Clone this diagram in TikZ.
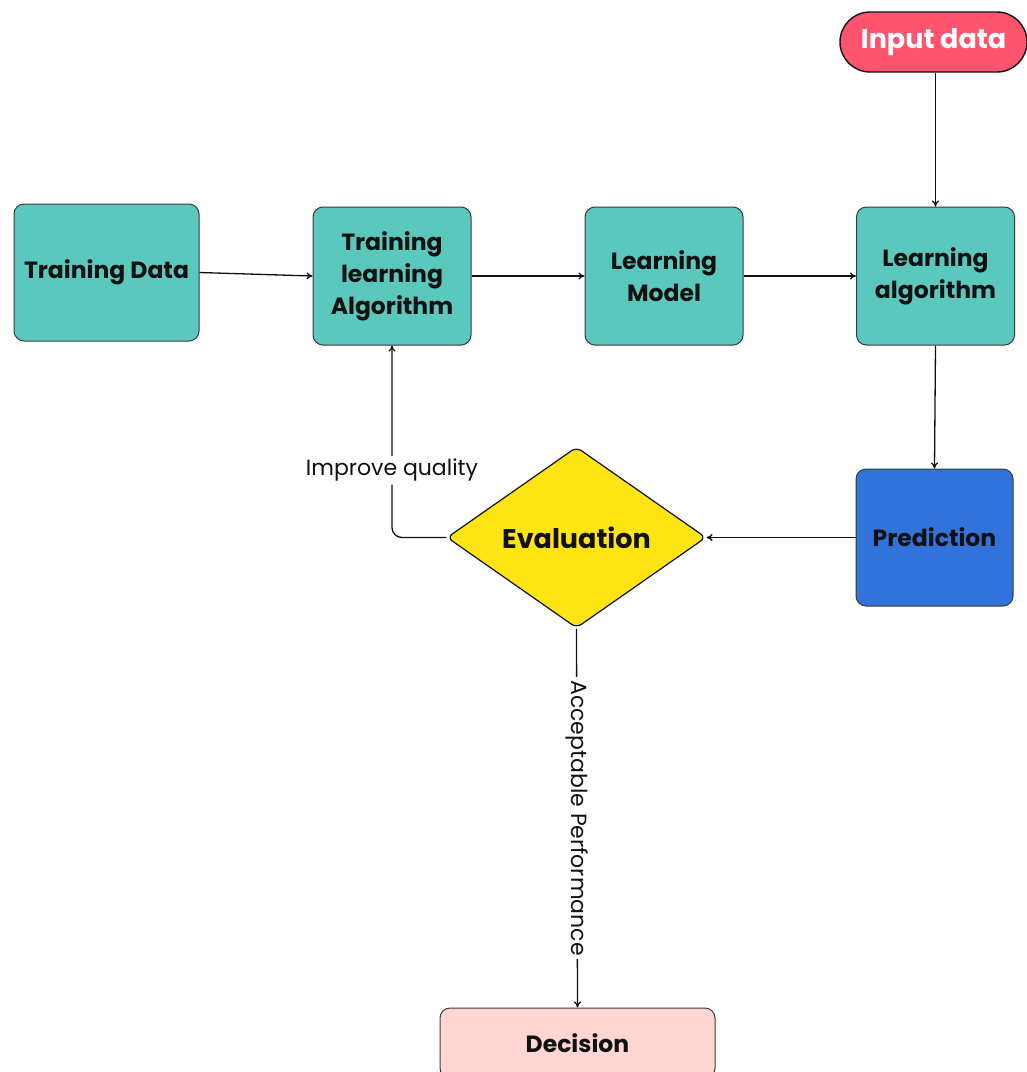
\documentclass[tikz,border=0pt]{standalone}
\usepackage{fontspec}
\setmainfont{Poppins}
\usetikzlibrary{arrows.meta,shapes.geometric}
\definecolor{Ink}{HTML}{111111}
\definecolor{Edge}{HTML}{3A3A3A}
\definecolor{Teal}{HTML}{5BC8BE}
\definecolor{Rose}{HTML}{FF546F}
\definecolor{Royal}{HTML}{3173DA}
\definecolor{Lemon}{HTML}{FFE414}
\definecolor{Blush}{HTML}{FFD6D2}

\begin{document}
\begin{tikzpicture}[x=1pt,y=-1pt,>=Latex]
  \tikzset{
    block/.style={
      rounded corners=10pt,
      draw=Edge,
      line width=1pt,
      minimum width=158pt,
      minimum height=138pt,
      align=center,
      inner sep=4pt,
      text=Ink,
      font=\bfseries\fontsize{23.5}{32}\selectfont
    },
    blockteal/.style={block, fill=Teal},
    blockblue/.style={block, fill=Royal},
    blockpink/.style={block, fill=Blush, minimum width=275pt, minimum height=70pt},
    pill/.style={
      rounded corners=30pt,
      draw=Ink,
      line width=1.4pt,
      fill=Rose,
      minimum width=187pt,
      minimum height=60pt,
      text=white,
      font=\bfseries\fontsize{27}{30}\selectfont
    },
    judge/.style={
      diamond,
      rounded corners=6pt,
      draw=Ink,
      line width=1.2pt,
      fill=Lemon,
      inner sep=0pt,
      minimum width=259pt,
      minimum height=181pt,
      text=Ink,
      font=\bfseries\fontsize{27}{30}\selectfont
    },
    flow/.style={->, line width=1.3pt, Ink, >={To[length=6pt,width=7pt]}},
    flowlabel/.style={fill=white, inner sep=3pt, text=Ink, font=\fontsize{22}{26}\selectfont}
  }

  \useasboundingbox (0,0) rectangle (1027,1072);

  \node[blockteal, minimum width=185pt, minimum height=137pt] (data) at (106.5,272.5) {Training Data};
  \node[blockteal] (trainalg) at (392,276) {Training\\learning\\Algorithm};
  \node[blockteal] (model)    at (664,276) {Learning\\Model};
  \node[blockteal] (learnalg) at (935.5,276) {Learning\\algorithm};
  \node[pill]      (input)    at (933.5,42) {Input data};
  \node[blockblue, minimum width=157pt, minimum height=137pt] (predict) at (934.5,537.5) {Prediction};
  \node[judge]     (eval)     at (576.5,537.5) {Evaluation};
  \node[blockpink] (decide)   at (577.5,1043) {Decision};

  \draw[flow] (data.east) -- (trainalg.west);
  \draw[flow] (trainalg.east) -- (model.west);
  \draw[flow] (model.east) -- (learnalg.west);
  \draw[flow] (input.south -| learnalg.north) -- (learnalg.north);
  \draw[flow] (learnalg.south) -- (predict.north);
  \draw[flow] (predict.west) -- (eval.east);
  \draw[flow, rounded corners=10pt] (eval.west) -| (trainalg.south)
    node[flowlabel, pos=0.675] {Improve quality};
  \draw[flow] (eval.south) -- (decide.north)
    node[flowlabel, midway, rotate=-90] {Acceptable Performance};
\end{tikzpicture}
\end{document}
